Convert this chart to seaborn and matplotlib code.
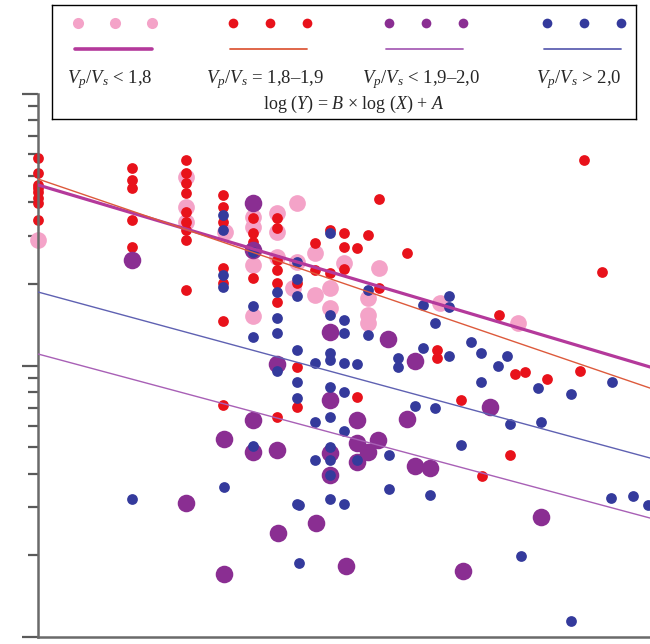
import numpy as np
import pandas as pd
import matplotlib
matplotlib.use("Agg")
import matplotlib.pyplot as plt
import seaborn as sns

# DATOS (ejes log-log)
# Vp/Vs < 1,8 (rosa)
pink_x = [1.0, 5.3, 5.3, 5.3, 8.25, 11.3, 11.3, 11.3, 11.3, 14.8, 14.8, 14.8,
          18.6, 18.6, 17.8, 22.8, 22.8, 27.0, 27.0, 31.6, 41.5, 41.5, 41.5,
          46.9, 93.5, 225]
pink_y = [29.0, 49.5, 38.4, 33.8, 31.0, 35.2, 32.4, 23.5, 15.2, 36.4, 31.0, 25.1,
          39.7, 24.1, 19.3, 26.0, 18.2, 19.3, 16.3, 23.8, 17.7, 15.3, 14.3,
          22.9, 17.0, 14.3]

# Vp/Vs = 1,8-1,9 (rojo)
red_x = [1.0, 1.0, 1.0, 1.0, 1.0, 1.0, 1.0, 1.0,
         2.9, 2.9, 2.9, 2.9, 2.9,
         5.3, 5.3, 5.3, 5.3, 5.3, 5.3, 5.3, 5.3, 5.3,
         8.1, 8.1, 8.1, 8.1, 8.1, 8.1, 8.1,
         11.3, 11.3, 11.3, 11.3,
         14.8, 14.8, 14.8, 14.8, 14.8, 14.8, 14.8,
         18.6, 18.6, 18.6, 22.8, 22.8, 27.0, 27.0, 31.6, 31.6, 31.6,
         36.6, 36.6, 41.5, 46.9, 46.9, 64.4, 90.3, 90.3, 118, 150,
         182, 206, 218, 244, 313, 454, 475, 582]
red_y = [58.1, 51.2, 46.2, 45.1, 43.6, 41.4, 39.7, 34.4,
         53.4, 48.2, 45.1, 34.4, 27.3,
         57.1, 51.2, 47.0, 43.2, 36.8, 33.8, 31.6, 29.0, 19.0,
         42.5, 38.4, 33.8, 22.9, 20.1, 14.6, 7.15,
         34.9, 30.8, 28.5, 21.0,
         34.9, 32.1, 24.5, 22.5, 20.1, 17.1, 6.46,
         20.1, 9.87, 7.03, 28.3, 22.5, 31.6, 21.9, 30.8, 27.3, 22.7,
         27.1, 7.66, 30.2, 41.1, 19.3, 26.0, 11.4, 10.7, 7.46, 3.93,
         15.3, 4.68, 9.30, 9.46, 8.92, 9.55, 57.1, 22.1]

# Vp/Vs < 1,9-2,0 (morado)
purple_x = [2.9, 11.3, 11.3, 8.16, 8.16, 5.3, 11.3, 11.3, 14.8, 14.8, 15.0,
            23.1, 27.0, 27.0, 27.0, 27.0, 32.4, 36.6, 36.6, 36.6, 41.5, 46.4,
            52.0, 64.4, 70.5, 70.5, 83.5, 121, 164, 292]
purple_y = [24.5, 39.7, 26.6, 5.36, 1.71, 3.12, 6.30, 4.80, 10.1, 4.88, 2.42,
            2.63, 13.3, 7.46, 4.76, 3.95, 1.83, 6.30, 5.18, 4.41, 4.80, 5.32,
            12.5, 6.35, 10.4, 4.26, 4.19, 1.75, 7.03, 2.77]

# Vp/Vs > 2,0 (azul)
blue_x = [2.9, 8.1, 8.1, 8.1, 8.1, 8.16,
          11.3, 11.3, 11.3, 11.3,
          14.8, 14.8, 14.8, 14.8,
          18.6, 18.6, 18.6, 18.6, 18.6, 18.6, 18.6, 19.0, 19.0,
          22.8, 22.8, 22.8,
          27.0, 27.0, 27.0, 27.0, 27.0, 27.0, 27.0, 27.0, 27.0, 27.0,
          31.6, 31.6, 31.6, 31.6, 31.6, 31.6,
          36.6, 36.6, 41.5, 41.5, 52.6, 52.6, 58.2, 58.2, 70.5, 77.1, 77.1,
          83.5, 88.3, 88.3, 103, 103, 103, 118, 133, 148, 148, 180, 199,
          206, 233, 282, 292, 410, 410, 644, 651, 825, 977]
blue_y = [3.22, 35.8, 31.6, 21.5, 19.5, 3.57,
          26.2, 16.6, 12.7, 5.05,
          18.7, 15.0, 13.2, 9.55,
          24.1, 20.8, 18.0, 11.4, 8.70, 7.59, 3.09, 3.06, 1.87,
          10.2, 6.19, 4.49,
          30.8, 15.3, 11.1, 10.5, 8.33, 6.46, 5.01, 4.49, 3.95, 3.22,
          14.7, 13.2, 10.2, 7.99, 5.74, 3.09,
          10.1, 4.49, 19.0, 13.0, 4.68, 3.50, 10.7, 9.87, 7.09, 16.7, 11.6,
          3.33, 14.3, 6.98, 18.0, 16.4, 10.8, 5.10, 12.2, 11.1, 8.70, 9.96, 10.8,
          6.09, 1.99, 8.26, 6.19, 7.85, 1.15, 3.25, 8.70, 3.31, 3.06]

# Coeficientes log(Y) = B*log(X) + A
grupos = ["<1,8", "1,8-1,9", "1,9-2,0", ">2,0"]
coef_B = [-0.2235, -0.2567, -0.2014, -0.2038]
coef_A = [1.665, 1.687, 1.0424, 1.2707]

etiquetas = [r"$V_p/V_s$ < 1,8", r"$V_p/V_s$ = 1,8–1,9",
             r"$V_p/V_s$ < 1,9–2,0", r"$V_p/V_s$ > 2,0"]

colores_punto = {"<1,8": "#f4a3c8", "1,8-1,9": "#e8121b",
                 "1,9-2,0": "#8a2e92", ">2,0": "#343a9c"}
colores_linea = {"<1,8": "#b4399b", "1,8-1,9": "#dd5a3c",
                 "1,9-2,0": "#a860b6", ">2,0": "#5f61b2"}
tam_punto = {"<1,8": 145, "1,8-1,9": 60, "1,9-2,0": 160, ">2,0": 60}
grosor_linea = {"<1,8": 2.3, "1,8-1,9": 1.0, "1,9-2,0": 1.0, ">2,0": 1.0}

sns.set_style("white")
plt.rcParams["font.family"] = ["Liberation Serif", "DejaVu Serif"]
plt.rcParams["mathtext.fontset"] = "custom"
plt.rcParams["mathtext.rm"] = "Liberation Serif"
plt.rcParams["mathtext.it"] = "Liberation Serif:italic"
plt.rcParams["mathtext.bf"] = "Liberation Serif:bold"

df = pd.concat([
    pd.DataFrame({"X": pink_x, "Y": pink_y, "grupo": "<1,8"}),
    pd.DataFrame({"X": red_x, "Y": red_y, "grupo": "1,8-1,9"}),
    pd.DataFrame({"X": purple_x, "Y": purple_y, "grupo": "1,9-2,0"}),
    pd.DataFrame({"X": blue_x, "Y": blue_y, "grupo": ">2,0"}),
], ignore_index=True)

fig = plt.figure(figsize=(6.5, 6.44), dpi=100)
ax = fig.add_axes([38 / 650, 7 / 644, 612 / 650, 543 / 644])

# Puntos
for g in grupos:
    sub = df[df["grupo"] == g]
    sns.scatterplot(data=sub, x="X", y="Y", ax=ax, color=colores_punto[g],
                    s=tam_punto[g], linewidth=0, alpha=1, clip_on=False,
                    legend=False, zorder=2)

# Rectas de ajuste
x_line = np.logspace(0, 3, 100)
for g, b, a in zip(grupos, coef_B, coef_A):
    ax.plot(x_line, 10 ** (b * np.log10(x_line) + a), color=colores_linea[g],
            lw=grosor_linea[g], zorder=3)

ax.set_xscale("log")
ax.set_yscale("log")
ax.set_xlim(1, 1000)
ax.set_ylim(1, 100)
ax.set_xlabel("")
ax.set_ylabel("")
ax.set_xticks([])
ax.set_xticks([], minor=True)
ax.tick_params(axis="y", which="major", length=11.5, width=1.6, color="#5a5a5a",
               labelleft=False, left=True)
ax.tick_params(axis="y", which="minor", length=7, width=1.6, color="#5a5a5a",
               labelleft=False, left=True)
for lado in ["top", "right"]:
    ax.spines[lado].set_visible(False)
for lado in ["left", "bottom"]:
    ax.spines[lado].set_color("#6a6a6a")
    ax.spines[lado].set_linewidth(1.8)

# Leyenda (recuadro propio)
lax = fig.add_axes([52 / 650, 1 - 119 / 644, 584 / 650, 114 / 644])
lax.set_xlim(52, 636)
lax.set_ylim(119, 5)
lax.set_xticks([])
lax.set_yticks([])
for sp in lax.spines.values():
    sp.set_color("black")
    sp.set_linewidth(1.0)

centros = [110, 265, 421, 579]
for g, c, lab in zip(grupos, centros, etiquetas):
    ms = 8 if g in ("<1,8",) else 7
    lax.plot([c - 32, c + 5, c + 42], [23, 23, 23], ls="none", marker="o",
             ms=ms, color=colores_punto[g], mec="none")
    lax.plot([c - 35, c + 42], [49, 49], color=colores_linea[g],
             lw=grosor_linea[g] + 0.3)
    lax.text(c, 80, lab, ha="center", va="center", fontsize=13.5)

lax.text(354, 104, r"log $(Y)$ = $B$ × log $(X)$ + $A$", ha="center",
         va="center", fontsize=13)

fig.savefig("out.png", dpi=100)
